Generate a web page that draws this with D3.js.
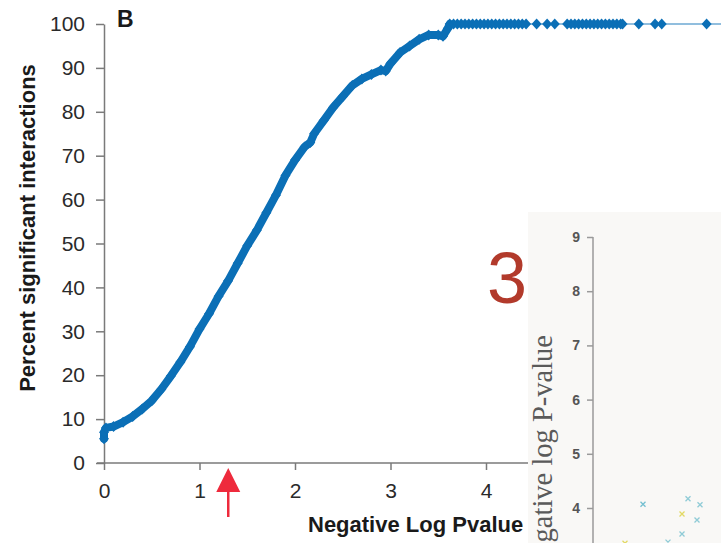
<!DOCTYPE html>
<html>
<head>
<meta charset="utf-8">
<script src="https://cdn.jsdelivr.net/npm/d3@7"></script>
<style>
  body { margin: 0; background: #fff; }
  svg { display: block; font-family: "Liberation Sans", Arial, sans-serif; }
</style>
</head>
<body>
<div id="chart"></div>
<script>
// main curve: percent significant vs -log p
const curveX = [0, 0, 0.02, 0.1, 0.2, 0.3, 0.4, 0.5, 0.6, 0.7, 0.8, 0.9, 1.0, 1.1, 1.2, 1.3, 1.4, 1.5, 1.6, 1.7, 1.8, 1.9, 2.0, 2.1, 2.16, 2.2, 2.3, 2.4, 2.5, 2.6, 2.7, 2.8, 2.9, 2.95, 3.0, 3.1, 3.2, 3.3, 3.4, 3.5, 3.55, 3.6];
const curveY = [5.5, 7, 8, 8.3, 9.3, 10.6, 12.3, 14.2, 16.8, 19.8, 23, 26.5, 30.5, 34, 38, 41.5, 45.5, 49.5, 53, 57, 61, 65.5, 69, 72, 73, 75, 78, 81, 83.5, 86, 87.5, 88.5, 89.5, 89.3, 91, 93.5, 95, 96.5, 97.5, 97.5, 97.2, 99];

// plateau at 100%
const plateauX = [3.62, 3.66, 3.70, 3.74, 3.78, 3.82, 3.86, 3.90, 3.94, 3.98, 4.02, 4.06, 4.10, 4.14, 4.18, 4.22, 4.26, 4.30, 4.34, 4.38, 4.42,
  4.53, 4.64, 4.72,
  4.85, 4.89, 4.93, 4.97, 5.01, 5.05, 5.09, 5.13, 5.17, 5.21, 5.25, 5.29, 5.33, 5.37, 5.41, 5.43,
  5.60, 5.77, 5.84, 6.31, 6.9];
const plateauY = plateauX.map(() => 100);

const yTicks = [0, 10, 20, 30, 40, 50, 60, 70, 80, 90, 100];
const xTicks = [0, 1, 2, 3, 4];
const arrowAt = 1.301; // p = 0.05

// inset panel (overlapping figure)
const insetTicks = [9, 8, 7, 6, 5, 4];
const insetPtsX = [25, 47.5, 53.5, 44.5, 52, 44.5, 16, 37.5];
const insetPtsY = [4.07, 4.17, 4.06, 3.89, 3.78, 3.52, 3.35, 3.37];
const insetPtsC = ["#74bfd0", "#8fcbd6", "#8fcbd6", "#e2d964", "#8fcbd6", "#8fcbd6", "#e2d964", "#8fcbd6"];

const width = 721, height = 543;
const blue = "#0b6fb6";

const svg = d3.select("#chart").append("svg")
  .attr("width", width).attr("height", height);

const x = d3.scaleLinear().domain([0, 4]).range([104, 486]);
const y = d3.scaleLinear().domain([0, 100]).range([463, 24]);

// axes
const yAxis = svg.append("g")
  .attr("transform", "translate(104,0)")
  .call(d3.axisLeft(y).tickValues(yTicks).tickFormat(d3.format("d")).tickSize(8).tickSizeOuter(0).tickPadding(11));
const xAxis = svg.append("g")
  .attr("transform", "translate(0,463)")
  .call(d3.axisBottom(x).tickValues(xTicks).tickFormat(d3.format("d")).tickSize(7).tickSizeOuter(0).tickPadding(13));
xAxis.select(".domain").attr("d", "M97,0H720");
[yAxis, xAxis].forEach(g => {
  g.selectAll("path, line").attr("stroke", "#7a7a7a").attr("stroke-width", 1.5);
  g.selectAll("text").attr("fill", "#2a2a2a").style("font-size", "21px");
});

// thin connecting line
const pts = curveX.map((d, i) => [d, curveY[i]]).concat(plateauX.map((d, i) => [d, plateauY[i]]));
svg.append("path")
  .datum(pts)
  .attr("fill", "none")
  .attr("stroke", blue)
  .attr("stroke-opacity", 0.6)
  .attr("stroke-width", 1.5)
  .attr("d", d3.line().x(d => x(d[0])).y(d => y(d[1])));

// dense marker band along the curve
svg.append("path")
  .datum(curveX.map((d, i) => [d, curveY[i]]).concat([[plateauX[0], 100]]))
  .attr("fill", "none")
  .attr("stroke", blue)
  .attr("stroke-width", 8)
  .attr("stroke-linejoin", "round")
  .attr("stroke-linecap", "round")
  .attr("d", d3.line().x(d => x(d[0])).y(d => y(d[1])));

// diamond markers
svg.append("g").selectAll("path")
  .data(pts)
  .join("path")
  .attr("transform", d => `translate(${x(d[0])},${y(d[1])})`)
  .attr("d", "M0,-5.5L5,0L0,5.5L-5,0Z")
  .attr("fill", blue);

// titles
svg.append("text")
  .attr("x", 117).attr("y", 27)
  .style("font-size", "23px").style("font-weight", "bold").attr("fill", "#1a1a1a")
  .text("B");

svg.append("text")
  .attr("transform", "translate(35,228) rotate(-90)")
  .attr("text-anchor", "middle")
  .style("font-size", "22px").style("font-weight", "bold").attr("fill", "#1a1a1a")
  .text("Percent significant interactions");

svg.append("text")
  .attr("x", 308).attr("y", 532)
  .style("font-size", "22px").style("font-weight", "bold").attr("fill", "#1a1a1a")
  .text("Negative Log Pvalue");

// red arrow at p = 0.05
const ax = x(arrowAt);
svg.append("path")
  .attr("d", `M${ax},468L${ax + 12},492L${ax - 12},492Z`)
  .attr("fill", "#ee2a3c");
svg.append("line")
  .attr("x1", ax).attr("x2", ax).attr("y1", 490).attr("y2", 517)
  .attr("stroke", "#ee2a3c").attr("stroke-width", 2.5);

// big "3"
svg.append("text")
  .attr("x", 507).attr("y", 303)
  .attr("text-anchor", "middle")
  .style("font-size", "72px").attr("fill", "#b23a2b")
  .text("3");

// inset panel
const inset = svg.append("g");
inset.append("rect")
  .attr("x", 528).attr("y", 212)
  .attr("width", width - 528).attr("height", height - 212)
  .attr("fill", "#f9f8f6");

const iy = d3.scaleLinear().domain([9, 4]).range([237, 508]);
const ix = d3.scaleLinear().domain([0, 100]).range([593, 793]);

const iAxis = inset.append("g")
  .attr("transform", "translate(593,0)")
  .call(d3.axisLeft(iy).tickValues(insetTicks).tickFormat(d3.format("d")).tickSize(6).tickSizeOuter(0).tickPadding(7));
iAxis.select(".domain").attr("d", "M0,237V543");
iAxis.selectAll("path, line").attr("stroke", "#9a9a9a").attr("stroke-width", 1.5);
iAxis.selectAll("text").attr("fill", "#555").style("font-size", "14px").style("font-weight", "bold");

inset.append("text")
  .attr("transform", "translate(552,335) rotate(-90)")
  .attr("text-anchor", "end")
  .style("font-family", "'Liberation Serif', 'DejaVu Serif', serif")
  .style("font-size", "28.5px").attr("fill", "#5a5a5a")
  .text("Negative log P-value");

inset.append("g").selectAll("path")
  .data(insetPtsX.map((d, i) => ({ x: d, y: insetPtsY[i], c: insetPtsC[i] })))
  .join("path")
  .attr("transform", d => `translate(${ix(d.x)},${iy(d.y)})`)
  .attr("d", "M-2.5,-2.5L2.5,2.5M-2.5,2.5L2.5,-2.5")
  .attr("stroke", d => d.c)
  .attr("stroke-width", 1.3);
</script>
</body>
</html>
